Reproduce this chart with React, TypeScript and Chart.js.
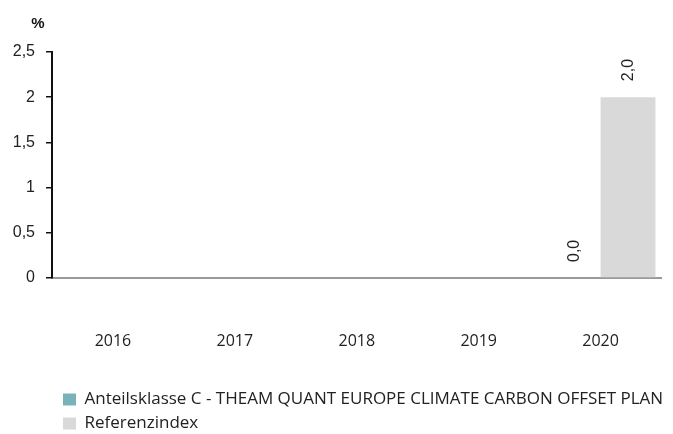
import React, { useEffect, useRef } from "react";
import { Chart, registerables } from "chart.js";

Chart.register(...registerables);

const categories = ["2016", "2017", "2018", "2019", "2020"];
const fundLabel = "Anteilsklasse C - THEAM QUANT EUROPE CLIMATE CARBON OFFSET PLAN";
const indexLabel = "Referenzindex";
const fundValues: (number | null)[] = [null, null, null, null, 0.0];
const indexValues: (number | null)[] = [null, null, null, null, 2.0];
const yTicks = [0, 0.5, 1, 1.5, 2, 2.5];
const yUnit = "%";

const fundColor = "#79B2B8";
const indexColor = "#D9D9D9";
const labelFont = "'Open Sans', 'Noto Sans', sans-serif";
const numFont = "'Liberation Sans', Arial, sans-serif";

const fmt = (v: number, digits?: number) =>
  (digits === undefined ? String(v) : v.toFixed(digits)).replace(".", ",");

const valueLabelPlugin = {
  id: "valueLabels",
  afterDatasetsDraw(chart: any) {
    const ctx = chart.ctx;
    ctx.save();
    ctx.font = `16px ${numFont}`;
    ctx.fillStyle = "#222";
    ctx.textAlign = "left";
    ctx.textBaseline = "middle";
    chart.data.datasets.forEach((ds: any, di: number) => {
      const meta = chart.getDatasetMeta(di);
      meta.data.forEach((el: any, i: number) => {
        const v = ds.data[i];
        if (v === null || v === undefined) return;
        ctx.save();
        ctx.translate(el.x, el.y - 16);
        ctx.rotate(-Math.PI / 2);
        ctx.fillText(fmt(v, 1), 0, 1);
        ctx.restore();
      });
    });
    ctx.restore();
  },
};

const unitPlugin = {
  id: "unitLabel",
  afterDraw(chart: any) {
    const ctx = chart.ctx;
    const ys = chart.scales.y;
    ctx.save();
    ctx.font = `bold 15px ${numFont}`;
    ctx.fillStyle = "#111";
    ctx.textAlign = "center";
    ctx.textBaseline = "middle";
    ctx.fillText(yUnit, ys.right - 14, chart.chartArea.top - 28);
    ctx.restore();
  },
};

const legendShiftPlugin = {
  id: "legendShift",
  afterLayout(chart: any) {
    const lg = chart.legend;
    if (!lg) return;
    lg.left = 56;
    lg.top = chart.chartArea.bottom + 106;
  },
};

export default function App() {
  const ref = useRef<HTMLCanvasElement | null>(null);

  useEffect(() => {
    if (!ref.current) return;
    const chart = new Chart(ref.current, {
      type: "bar",
      data: {
        labels: categories,
        datasets: [
          {
            label: fundLabel,
            data: fundValues,
            backgroundColor: fundColor,
            borderWidth: 0,
            categoryPercentage: 0.9,
            barPercentage: 1.0,
          },
          {
            label: indexLabel,
            data: indexValues,
            backgroundColor: indexColor,
            borderWidth: 0,
            categoryPercentage: 0.9,
            barPercentage: 1.0,
          },
        ],
      },
      options: {
        responsive: false,
        animation: false,
        layout: { padding: { top: 52, right: 1, left: 0, bottom: 0 } },
        scales: {
          x: {
            grid: { display: false, drawTicks: false },
            border: { display: true, color: "#9a9a9a", width: 2 },
            ticks: {
              padding: 54,
              color: "#222",
              font: { family: labelFont, size: 16 },
              maxRotation: 0,
            },
            afterFit: (s: any) => {
              s.height = 98;
            },
          },
          y: {
            min: 0,
            max: 2.5,
            afterBuildTicks: (s: any) => {
              s.ticks = yTicks.map((v) => ({ value: v }));
            },
            grid: {
              display: true,
              drawOnChartArea: false,
              drawTicks: true,
              tickLength: 6,
              color: "#111",
              lineWidth: 1.5,
            },
            border: { display: true, color: "#111", width: 2 },
            ticks: {
              padding: 11,
              color: "#222",
              font: { family: numFont, size: 16 },
              callback: (v: any) => fmt(Number(v)),
            },
            afterFit: (s: any) => {
              s.width = 52;
            },
          },
        },
        plugins: {
          legend: {
            position: "bottom",
            align: "start",
            labels: {
              boxWidth: 13,
              boxHeight: 12,
              padding: 7,
              color: "#222",
              font: { family: labelFont, size: 17 },
            },
          },
          tooltip: { enabled: false },
        },
      },
      plugins: [valueLabelPlugin, unitPlugin, legendShiftPlugin],
    });
    return () => chart.destroy();
  }, []);

  return (
    <div style={{ position: "absolute", left: 0, top: 0, width: 673, height: 434, background: "#fff" }}>
      <canvas ref={ref} width={673} height={434} style={{ display: "block" }} />
    </div>
  );
}
